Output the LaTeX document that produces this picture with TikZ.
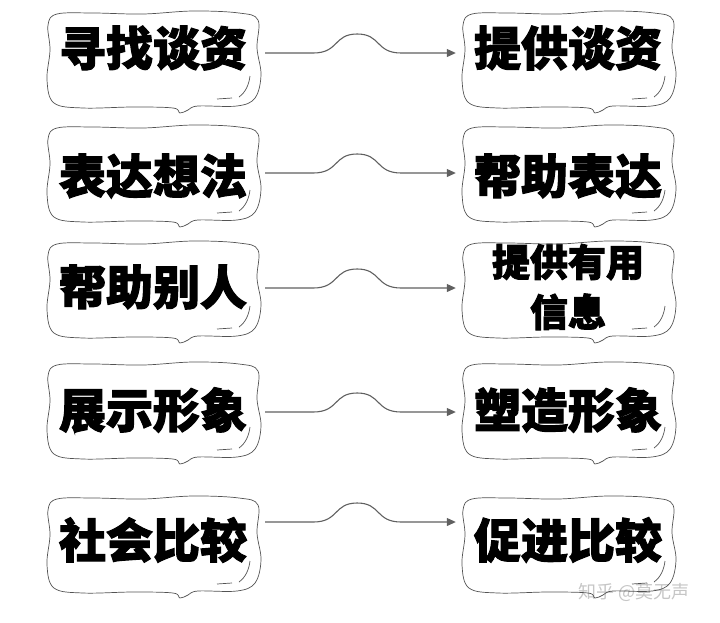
\documentclass[tikz,border=0pt]{standalone}
\usepackage{fontspec}
\newfontfamily\cjkblack{Noto Sans CJK SC Black}[FakeBold=2.2]
\newfontfamily\cjk{Noto Sans CJK SC}
\usetikzlibrary{arrows.meta,calc}
\tikzset{
  word/.style={font=\cjkblack\fontsize{47}{50}\selectfont, minimum width=224pt, inner sep=0pt},
  twoline/.style={word, font=\cjkblack\fontsize{38}{50}\selectfont, align=center},
  wave/.style={draw=gray!75!black, line width=1.1pt, -{Triangle[length=9pt,width=8pt]},
    to path={-- ++(48,0) .. controls +(26,0) and +(-24,0) .. ++(44,-19)
             .. controls +(24,0) and +(-26,0) .. ++(44,19) -- (\tikztotarget)}},
  bubble/.style={draw=gray!65!black, line width=0.7pt},
  watermark/.style={font=\cjk\fontsize{18}{20}\selectfont, text=gray!45},
}
\begin{document}
\begin{tikzpicture}[x=1pt,y=-1pt]
  \useasboundingbox (0,0) rectangle (720,622);
  \node[word] (l1) at (153,48) {寻找谈资};
  \node[word] (r1) at (568,48) {提供谈资};
  \node[word] (l2) at (153,176) {表达想法};
  \node[word] (r2) at (568,176) {帮助表达};
  \node[word] (l3) at (153,287) {帮助别人};
  \node[twoline] (r3) at (568,287) {提供有用\\信息};
  \node[word] (l4) at (153,410) {展示形象};
  \node[word] (r4) at (568,410) {塑造形象};
  \node[word] (l5) at (153,540) {社会比较};
  \node[word] (r5) at (568,540) {促进比较};
  \node[watermark] (wm) at (634,592) {知乎 @莫无声};

  % hand-drawn bubbles round the words
  \foreach \n/\dy in {l1/12,r1/12,l2/-2,r2/-2,l3/3,r3/3,l4/1,r4/1,l5/5,r5/5}{
    \draw[bubble, shift={($(\n.center)+(0,\dy)$)}] plot[smooth cycle, tension=0.6] coordinates
      {(-96,-46) (-60,-47) (-10,-46) (40,-49) (86,-47) (105,-40) (104,-12) (108,15)
       (102,38) (84,46) (45,46) (35,50) (27,53) (20,48) (-20,47) (-70,48) (-99,43)
       (-106,20) (-103,-10) (-105,-35)};
    \draw[bubble, shift={($(\n.center)+(0,\dy)$)}] (64,39) -- (79,38)
      (86,37) .. controls (93,32) and (96,24) .. (97,16);
  }

  \draw[wave] ($(l1.east)+(0,5)$) to ($(r1.west)+(0,5)$);
  \draw[wave] ($(l2.east)+(0,-3)$) to ($(r2.west)+(0,-3)$);
  \draw[wave] ($(l3.east)+(0,1)$) to ($(r3.west)+(0,1)$);
  \draw[wave] ($(l4.east)+(0,2)$) to ($(r4.west)+(0,2)$);
  \draw[wave] ($(l5.east)+(0,-18)$) to ($(r5.west)+(0,-18)$);
\end{tikzpicture}
\end{document}
